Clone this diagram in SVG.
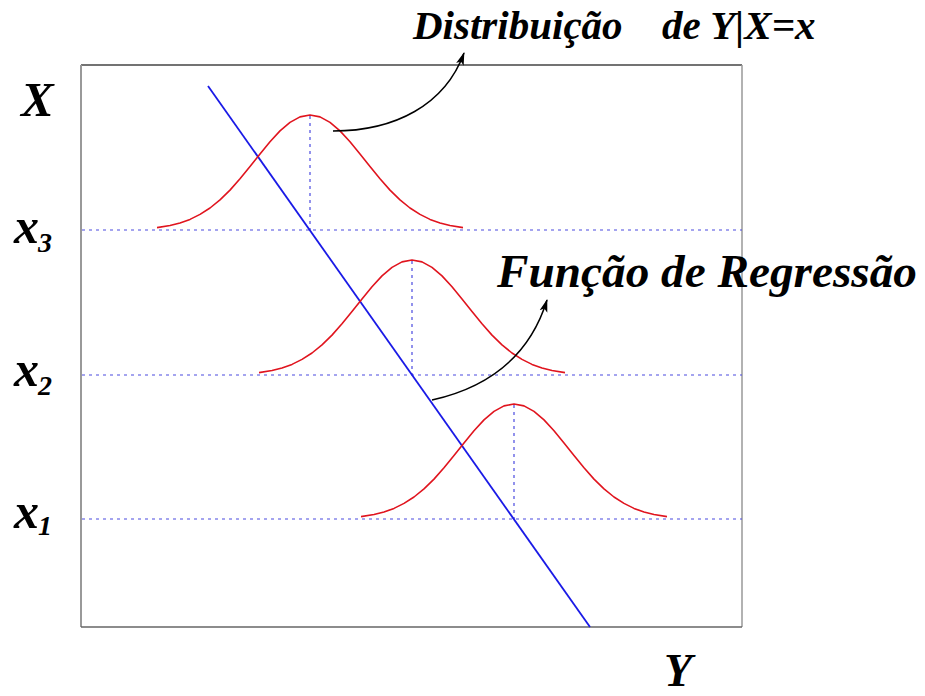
<svg xmlns="http://www.w3.org/2000/svg" xmlns:xlink="http://www.w3.org/1999/xlink" width="925" height="696" viewBox="0 0 925 696">
<style>
.lbl{font-family:"Liberation Serif","Times New Roman",serif;font-weight:bold;font-style:italic;fill:#000}
.grid{stroke:#4a4ae0;stroke-width:1.2;stroke-dasharray:3,4;fill:none}
.gauss{stroke:#e0141e;stroke-width:1.6;fill:none;stroke-linejoin:round}
.arr{stroke:#000;stroke-width:1.5;fill:none}
</style>
<defs>
<path id="g" d="M-153,-2.4 L-140,-4.5 L-130,-7 L-120,-10.6 L-110,-15.6 L-100,-22 L-90,-30.1 L-80,-39.9 L-70,-51.2 L-60,-63.4 L-50,-76.1 L-40,-88.3 L-30,-99.1 L-20,-107.6 L-10,-113.1 L0,-115 L10,-113.1 L20,-107.6 L30,-99.1 L40,-88.3 L50,-76.1 L60,-63.4 L70,-51.2 L80,-39.9 L90,-30.1 L100,-22 L110,-15.6 L120,-10.6 L130,-7 L140,-4.5 L153,-2.4"/>
<marker id="ah" markerWidth="14" markerHeight="10" refX="12" refY="5" orient="auto" markerUnits="userSpaceOnUse">
<path d="M0,1 L13,5 L0,9 L3,5 Z" fill="#000"/>
</marker>
</defs>
<rect width="925" height="696" fill="#fff"/>
<g id="frame">
<line x1="81" y1="65" x2="742" y2="65" stroke="#444" stroke-width="1.5"/>
<line x1="81" y1="65" x2="81" y2="627" stroke="#999" stroke-width="2"/>
<line x1="742" y1="65" x2="742" y2="627" stroke="#999" stroke-width="1.5"/>
<line x1="81" y1="627" x2="742" y2="627" stroke="#666" stroke-width="1.5"/>
</g>
<g id="levels">
<line class="grid" x1="82" y1="230" x2="742" y2="230"/>
<line class="grid" x1="82" y1="375" x2="742" y2="375"/>
<line class="grid" x1="82" y1="519" x2="742" y2="519"/>
<line class="grid" x1="310" y1="116" x2="310" y2="230"/>
<line class="grid" x1="412" y1="261" x2="412" y2="375"/>
<line class="grid" x1="514" y1="405" x2="514" y2="519"/>
</g>
<g id="regression-line">
<line x1="208" y1="86" x2="590" y2="627" stroke="#1a1ae6" stroke-width="1.8"/>
</g>
<g id="curve-x3"><use xlink:href="#g" href="#g" class="gauss" transform="translate(310,230)"/></g>
<g id="curve-x2"><use xlink:href="#g" href="#g" class="gauss" transform="translate(412,375)"/></g>
<g id="curve-x1"><use xlink:href="#g" href="#g" class="gauss" transform="translate(514,519)"/></g>
<g id="connectors">
<path class="arr" d="M333,131 C395,131 445,105 464,53" marker-end="url(#ah)"/>
<path class="arr" d="M432,400 C490,387 530,355 547,300" marker-end="url(#ah)"/>
</g>
<g id="label-dist"><text class="lbl" y="39" font-size="41"><tspan x="413">Distribuição</tspan><tspan x="662">de Y|X=x</tspan></text></g>
<g id="label-reg"><text class="lbl" x="497" y="287" font-size="47" textLength="420" lengthAdjust="spacingAndGlyphs">Função de Regressão</text></g>
<g id="axis-labels">
<text class="lbl" x="21" y="116" font-size="49">X</text>
<text class="lbl" x="14" y="243" font-size="50">x<tspan font-size="28" dx="-1" dy="9">3</tspan></text>
<text class="lbl" x="14" y="386" font-size="50">x<tspan font-size="28" dx="-1" dy="9">2</tspan></text>
<text class="lbl" x="14" y="528" font-size="50">x<tspan font-size="28" dx="-1" dy="7">1</tspan></text>
<text class="lbl" x="664" y="686" font-size="46">Y</text>
</g>
</svg>
